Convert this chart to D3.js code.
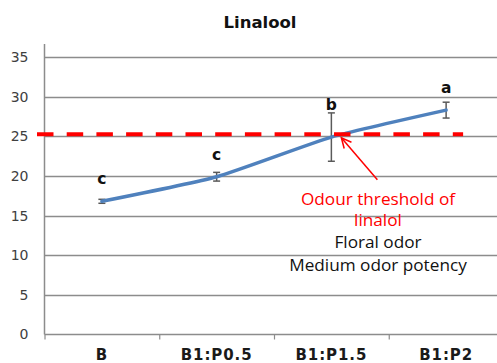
<!DOCTYPE html>
<html>
<head>
<meta charset="utf-8">
<script src="https://cdn.jsdelivr.net/npm/d3@7"></script>
<style>
  html, body { margin: 0; padding: 0; background: #fff; }
  svg { display: block; }
</style>
</head>
<body>
<svg id="chart" width="497" height="363"></svg>
<script>
// Linalool concentration by blend
const categories = ["B", "B1:P0.5", "B1:P1.5", "B1:P2"];
const means = [16.8, 19.9, 24.9, 28.3];
const errors = [0.25, 0.55, 3.05, 1.0];
const groupLetters = ["c", "c", "b", "a"];
const letterLevels = [19.0, 22.0, 28.3, 30.4];
const yTicks = [0, 5, 10, 15, 20, 25, 30, 35];
const threshold = 25.25;
const noteRed = ["Odour threshold of", "linalol"];
const noteBlack = ["Floral odor", "Medium odor potency"];

const svg = d3.select("#chart");
const W = 497, H = 363;
const plot = { left: 44.5, right: 503.5, top: 57, bottom: 334.5 };

const x = d3.scaleBand().domain(categories).range([plot.left, plot.right]).padding(0);
const cx = c => x(c) + x.bandwidth() / 2;
const y = d3.scaleLinear().domain([0, 35]).range([plot.bottom, plot.top]);

const gridColor = "#8c8c8c";

// horizontal gridlines
svg.append("g")
  .selectAll("line")
  .data(yTicks.filter(t => t > 0))
  .join("line")
  .attr("x1", plot.left).attr("x2", W)
  .attr("y1", d => Math.round(y(d)) + 0.5).attr("y2", d => Math.round(y(d)) + 0.5)
  .attr("stroke", gridColor).attr("stroke-width", 1.3);

// y axis
const yAxis = svg.append("g")
  .attr("transform", `translate(${plot.left},0)`)
  .call(d3.axisLeft(y).tickValues(yTicks).tickSize(0).tickPadding(16));
yAxis.select(".domain").attr("stroke", gridColor).attr("stroke-width", 1.5)
  .attr("d", `M0,${plot.top - 13}V${plot.bottom}`);
yAxis.selectAll("text")
  .attr("font-family", "DejaVu Sans").attr("font-size", 14).attr("fill", "#404040");

// x axis
const xAxis = svg.append("g")
  .attr("transform", `translate(0,${plot.bottom})`)
  .call(d3.axisBottom(x).tickSize(0).tickPadding(15));
xAxis.select(".domain").attr("stroke", gridColor).attr("stroke-width", 1.5)
  .attr("d", `M${plot.left},0H${W}`);
xAxis.selectAll("text")
  .attr("font-family", "DejaVu Sans").attr("font-weight", "bold")
  .attr("font-size", 15).attr("letter-spacing", 0.9).attr("fill", "#1a1a1a")
  .attr("dy", "0.71em");
// tick marks at band boundaries
xAxis.append("g").selectAll("line")
  .data(categories)
  .join("line")
  .attr("x1", d => x(d) + 0.5).attr("x2", d => x(d) + 0.5)
  .attr("y1", 0).attr("y2", 5)
  .attr("stroke", gridColor).attr("stroke-width", 1.2);

// error bars
const eb = svg.append("g").attr("stroke", "#5a5a5a").attr("stroke-width", 1.5);
categories.forEach((c, i) => {
  const xc = cx(c);
  const yt = y(means[i] + errors[i]), yb = y(means[i] - errors[i]);
  eb.append("line").attr("x1", xc).attr("x2", xc).attr("y1", yt).attr("y2", yb);
  eb.append("line").attr("x1", xc - 3.5).attr("x2", xc + 3.5).attr("y1", yt).attr("y2", yt);
  eb.append("line").attr("x1", xc - 3.5).attr("x2", xc + 3.5).attr("y1", yb).attr("y2", yb);
});

// smoothed mean line
const line = d3.line()
  .x((d, i) => cx(categories[i]))
  .y(d => y(d))
  .curve(d3.curveCardinal.tension(0.45));
svg.append("path")
  .datum(means)
  .attr("d", line)
  .attr("fill", "none")
  .attr("stroke", "#4f81bd")
  .attr("stroke-width", 3.5)
  .attr("stroke-linecap", "round");

// odour threshold dashed line
svg.append("line")
  .attr("x1", plot.left - 7.5)
  .attr("x2", cx(categories[3]) + 17)
  .attr("y1", y(threshold)).attr("y2", y(threshold))
  .attr("stroke", "#ff0000")
  .attr("stroke-width", 4)
  .attr("stroke-dasharray", "16.5 13.2");

// significance letters
svg.append("g").selectAll("text")
  .data(categories)
  .join("text")
  .attr("x", d => cx(d))
  .attr("y", (d, i) => y(letterLevels[i]))
  .attr("text-anchor", "middle")
  .attr("font-family", "DejaVu Sans").attr("font-weight", "bold")
  .attr("font-size", 15.5).attr("fill", "#111")
  .text((d, i) => groupLetters[i]);

// title
svg.append("text")
  .attr("x", 260).attr("y", 28)
  .attr("text-anchor", "middle")
  .attr("font-family", "DejaVu Sans").attr("font-weight", "bold")
  .attr("font-size", 16.5).attr("fill", "#111")
  .text("Linalool");

// annotation arrow pointing at the threshold crossing
const tipX = cx(categories[2]) + 10, tipY = y(threshold) + 3.5;
const tailX = tipX + 36, tailY = tipY + 42;
svg.append("line")
  .attr("x1", tailX).attr("y1", tailY).attr("x2", tipX).attr("y2", tipY)
  .attr("stroke", "#ff0000").attr("stroke-width", 1.5);
const ang = Math.atan2(tailY - tipY, tailX - tipX);
const head = [ang - 0.45, ang + 0.45].map(a => [tipX + 11 * Math.cos(a), tipY + 11 * Math.sin(a)]);
svg.append("path")
  .attr("d", `M${head[0][0]},${head[0][1]}L${tipX},${tipY}L${head[1][0]},${head[1][1]}`)
  .attr("fill", "none").attr("stroke", "#ff0000").attr("stroke-width", 1.5);

// annotation text
const noteX = 378;
svg.append("g").selectAll("text")
  .data(noteRed)
  .join("text")
  .attr("x", noteX).attr("y", (d, i) => 205 + i * 21)
  .attr("text-anchor", "middle")
  .attr("font-family", "Open Sans").attr("font-size", 17.2).attr("fill", "#ff0000")
  .text(d => d);
svg.append("g").selectAll("text")
  .data(noteBlack)
  .join("text")
  .attr("x", noteX).attr("y", (d, i) => 248 + i * 22.5)
  .attr("text-anchor", "middle")
  .attr("font-family", "Open Sans").attr("font-size", 17.2).attr("fill", "#111")
  .text(d => d);
</script>
</body>
</html>
